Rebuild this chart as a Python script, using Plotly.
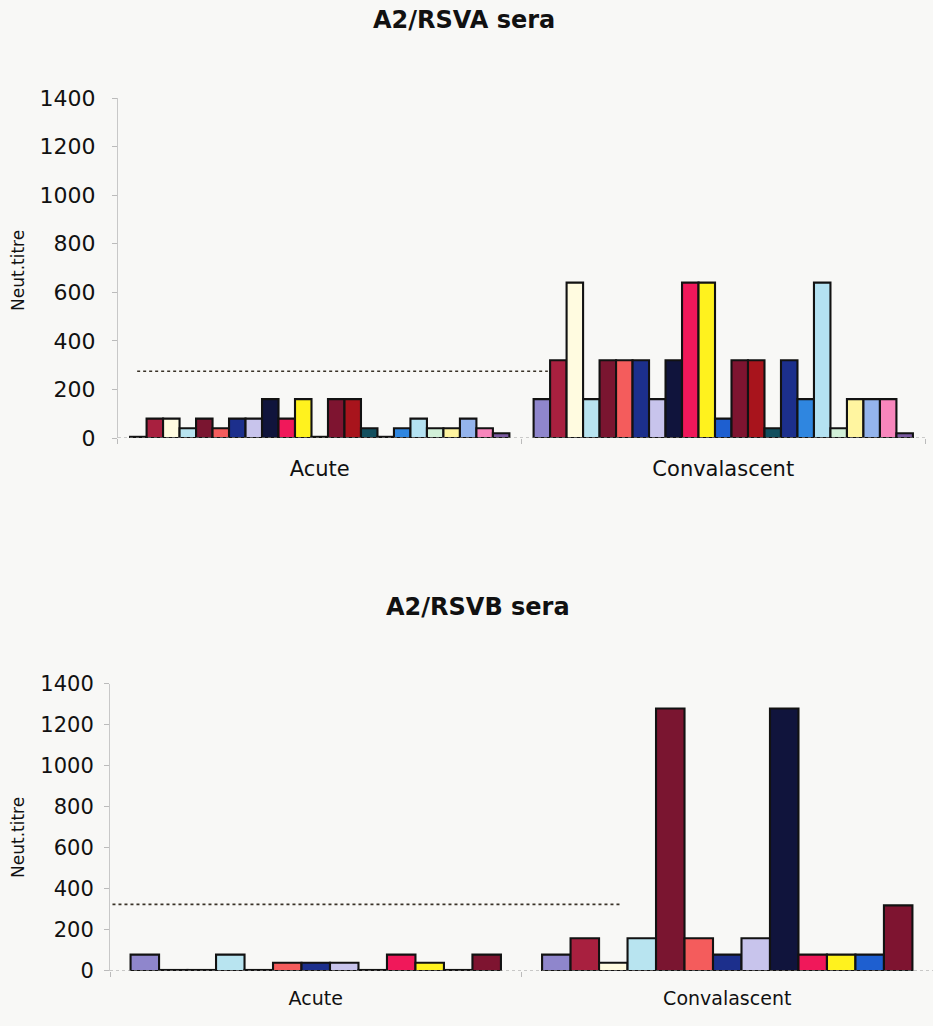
import plotly.graph_objects as go

# ---------------- data ----------------
categories = ["Acute", "Convalascent"]

# A2/RSVA sera : 23 sera, acute and convalescent titres
rsva_acute = [5, 80, 80, 40, 80, 40, 80, 80, 160, 80, 160, 5, 160, 160, 40, 5, 40, 80, 40, 40, 80, 40, 20]
rsva_conv = [160, 320, 640, 160, 320, 320, 320, 160, 320, 640, 640, 80, 320, 320, 40, 320, 160, 640, 40, 160, 160, 160, 20]
rsva_cutoff = 275

# A2/RSVB sera : 13 sera
rsvb_acute = [80, 5, 5, 80, 5, 40, 40, 40, 5, 80, 40, 5, 80]
rsvb_conv = [80, 160, 40, 160, 1280, 160, 80, 160, 1280, 80, 80, 80, 320]
rsvb_cutoff = 325

y_ticks = [0, 200, 400, 600, 800, 1000, 1200, 1400]

colors = ["#8f86cc", "#a8203f", "#fffbe0", "#b8e4f0", "#7a1530", "#f45c5c",
          "#1c2f8c", "#c8c4ec", "#10143c", "#f0185a", "#fff21e", "#1e5fd0",
          "#7e1430", "#a8141c", "#124f5e", "#1c2f8c", "#2f86e0", "#b4e2f2",
          "#d2f0d8", "#fff5a0", "#94b4ec", "#f886bc", "#7a5aa0"]

# ---------------- figure ----------------
W, H = 933, 1026
BG = "#f8f8f6"
fig = go.Figure()

FONT = "DejaVu Sans"
TXT = "#111111"


def add_group(acute, conv, xa, ya, group_width):
    n = len(acute)
    w = group_width / n
    for i in range(n):
        fig.add_trace(go.Bar(
            x=categories, y=[acute[i], conv[i]],
            xaxis=xa, yaxis=ya,
            width=w, offset=-group_width / 2 + i * w,
            marker=dict(color=colors[i], line=dict(color="#121212", width=2.1)),
            name=f"Serum {i + 1}", showlegend=False,
        ))


add_group(rsva_acute, rsva_conv, "x", "y", 0.94)
add_group(rsvb_acute, rsvb_conv, "x2", "y2", 0.90)

yaxis_common = dict(range=[0, 1400], tickvals=y_ticks, showgrid=False, zeroline=False,
                    showline=True, linecolor="#c8c8c8", linewidth=1,
                    ticks="outside", ticklen=5, tickcolor="#bbbbbb",
                    tickfont=dict(family=FONT, size=22, color=TXT), automargin=False)
xaxis_common = dict(showgrid=False, zeroline=False, showline=False,
                    ticks="outside", tickson="boundaries", ticklen=5, tickcolor="#bbbbbb",
                    automargin=False)

fig.update_layout(
    width=W, height=H,
    margin=dict(l=110, r=0, t=98, b=55),
    paper_bgcolor=BG, plot_bgcolor=BG,
    barmode="overlay",
    xaxis=dict(domain=[0.0097, 0.9903], anchor="y",
               tickfont=dict(family=FONT, size=21, color=TXT), ticklabelstandoff=16, **xaxis_common),
    yaxis=dict(domain=[0.6105, 1.0], anchor="x", ticklabelstandoff=12, **yaxis_common),
    xaxis2=dict(domain=[0.0, 1.0], anchor="y2",
                tickfont=dict(family=FONT, size=19, color=TXT), ticklabelstandoff=14, **xaxis_common),
    yaxis2=dict(domain=[0.0, 0.3288], anchor="x2", ticklabelstandoff=6, **yaxis_common),
)
fig.update_layout(yaxis2_tickfont_size=21)

# dotted baselines
for xr, yr in (("x domain", "y"), ("x2 domain", "y2")):
    fig.add_shape(type="line", xref=xr, yref=yr, x0=0, x1=1, y0=0, y1=0,
                  line=dict(color="#9a9a9a", width=1, dash="dot"))

# cut-off lines
fig.add_shape(type="line", xref="paper", yref="y", x0=0.033, x1=0.532,
              y0=rsva_cutoff, y1=rsva_cutoff, line=dict(color="#3a3328", width=1.6, dash="dot"))
fig.add_shape(type="line", xref="paper", yref="y2", x0=0.003, x1=0.62,
              y0=rsvb_cutoff, y1=rsvb_cutoff, line=dict(color="#3a3328", width=1.6, dash="dot"))

# titles
fig.add_annotation(text="<b>A2/RSVA sera</b>", xref="paper", yref="paper", x=0.430, y=1.089,
                   showarrow=False, xanchor="center", yanchor="middle",
                   font=dict(family=FONT, size=24, color=TXT))
fig.add_annotation(text="<b>A2/RSVB sera</b>", xref="paper", yref="paper", x=0.447, y=0.417,
                   showarrow=False, xanchor="center", yanchor="middle",
                   font=dict(family=FONT, size=24, color=TXT))

# y-axis titles
for yc in (0.803, 0.1535):
    fig.add_annotation(text="Neut.titre", xref="paper", yref="paper", x=-0.1118, y=yc,
                       showarrow=False, textangle=-90, xanchor="center", yanchor="middle",
                       font=dict(family=FONT, size=17, color=TXT))

fig.write_html(
    "out.html",
    config={"displayModeBar": False},
    post_script="document.body.style.margin='0';document.body.style.overflow='hidden';"
                "document.body.style.background='" + BG + "';",
)
